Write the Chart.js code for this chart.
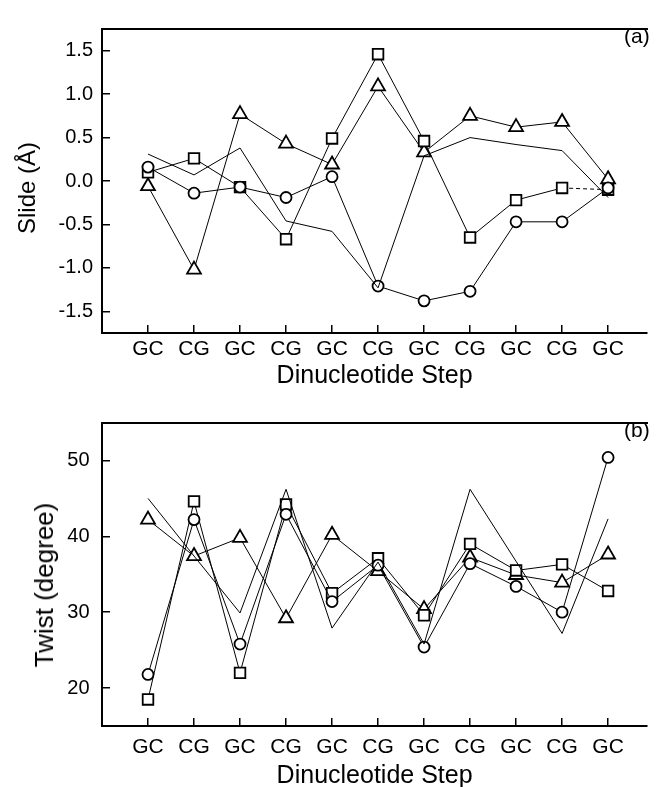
<!DOCTYPE html>
<html>
<head>
<meta charset="utf-8">
<script src="https://cdn.jsdelivr.net/npm/chart.js@4"></script>
<style>
  body { margin: 0; background: #fff; }
  #wrap { position: relative; width: 657px; height: 787px; overflow: hidden; font-family: 'Liberation Sans', Arial, sans-serif; color: #000; }
  canvas { position: absolute; left: 0; }
  .ytitle { position: absolute; transform: translate(-50%, -50%) rotate(-90deg); white-space: nowrap; line-height: 1; }
  .tag { position: absolute; font-size: 21px; line-height: 21px; }
</style>
</head>
<body>
<div id="wrap">
  <canvas id="slideChart" width="657" height="390" style="top:0"></canvas>
  <canvas id="twistChart" width="657" height="397" style="top:390px"></canvas>
  <div class="ytitle" style="left:27px; top:188px; font-size:24px">Slide (Å)</div>
  <div class="ytitle" style="left:44px; top:585px; font-size:26px">Twist (degree)</div>
  <div class="tag" style="left:624px; top:25px">(a)</div>
  <div class="tag" style="left:624px; top:419px">(b)</div>
</div>
<script>
const steps = ["GC", "CG", "GC", "CG", "GC", "CG", "GC", "CG", "GC", "CG", "GC"];
const slideTicks = [-1.5, -1.0, -0.5, 0, 0.5, 1.0, 1.5];
const twistTicks = [20, 30, 40, 50];

// panel (a): slide
const slideCircle   = [0.16, -0.14, -0.07, -0.19, 0.05, -1.21, -1.38, -1.27, -0.47, -0.47, -0.08];
const slideSquare   = [0.10, 0.26, -0.07, -0.67, 0.49, 1.46, 0.46, -0.65, -0.22, -0.08, -0.10];
const slideTriangle = [-0.06, -1.02, 0.77, 0.43, 0.19, 1.09, 0.33, 0.75, 0.62, 0.68, 0.02];
const slideLine     = [0.31, 0.07, 0.38, -0.46, -0.58, -1.23, 0.29, 0.50, 0.42, 0.35, -0.19];

// panel (b): twist
const twistCircle   = [21.8, 42.2, 25.8, 42.9, 31.4, 36.2, 25.4, 36.4, 33.4, 30.0, 50.4];
const twistSquare   = [18.5, 44.6, 22.0, 44.2, 32.5, 37.1, 29.6, 39.0, 35.5, 36.3, 32.8];
const twistTriangle = [42.2, 37.4, 39.8, 29.2, 40.2, 35.4, 30.4, 37.2, 34.9, 33.9, 37.6];
const twistLine     = [45.0, 37.4, 29.9, 46.2, 27.9, 36.6, 25.8, 46.2, 36.7, 27.2, 42.3];

Chart.defaults.font.family = "'Liberation Sans', Arial, sans-serif";
Chart.defaults.color = "#000";

const series = (values, style, radius, extra) => Object.assign({
  data: values.map((y, i) => ({x: i, y: y})),
  pointStyle: style,
  pointRadius: radius,
  pointHoverRadius: radius,
  borderColor: "#000",
  borderWidth: 1,
  pointBorderWidth: 1.8,
  pointBorderColor: "#000",
  pointBackgroundColor: "#fff"
}, extra || {});

const makePanel = (id, p) => new Chart(id, {
  type: "line",
  data: { datasets: p.datasets },
  options: {
    responsive: false,
    animation: false,
    devicePixelRatio: 1,
    layout: { padding: { top: p.top, left: 0, right: 0, bottom: 0 } },
    plugins: { legend: { display: false }, tooltip: { enabled: false } },
    scales: {
      x: {
        type: "linear", min: -1, max: 10.85,
        afterBuildTicks: s => { s.ticks = steps.map((_, i) => ({value: i})); },
        afterFit: s => { s.height = p.xHeight; },
        ticks: { callback: v => steps[v], font: { size: 21 }, padding: p.xPad, maxRotation: 0, autoSkip: false },
        grid: { drawOnChartArea: false, tickLength: -8, color: "#000", lineWidth: 1.5 },
        border: { color: "#000", width: 2 },
        title: { display: true, text: "Dinucleotide Step", font: { size: 25, lineHeight: p.titleLH }, padding: { top: 0, bottom: p.titlePad } }
      },
      frame: {
        type: "linear", position: "top", min: -1, max: 10.85,
        afterFit: s => { s.height = 0; },
        ticks: { display: false },
        grid: { display: false },
        border: { color: "#000", width: 2 }
      },
      y: {
        type: "linear", min: p.min, max: p.max,
        afterBuildTicks: s => { s.ticks = p.ticks.map(v => ({value: v})); },
        afterFit: s => { s.width = 102; },
        ticks: { callback: p.fmt, font: { size: 20 }, padding: p.yPad },
        grid: { drawOnChartArea: false, tickLength: -8, color: "#000", lineWidth: 1.5 },
        border: { color: "#000", width: 2 }
      }
    }
  }
});

makePanel("slideChart", {
  top: 13, xHeight: 57, xPad: 12, yPad: 17, titleLH: 1, titlePad: 1,
  min: -1.75, max: 1.75, ticks: slideTicks, fmt: v => v.toFixed(1),
  datasets: [
    series(slideLine, "circle", 0),
    series(slideCircle, "circle", 5.5),
    series(slideSquare, "rect", 7.5, { segment: { borderDash: ctx => ctx.p0DataIndex === 9 ? [4, 3] : undefined } }),
    series(slideTriangle, "triangle", 8)
  ]
});

makePanel("twistChart", {
  top: 15, xHeight: 61, xPad: 16.5, yPad: 20.5, titleLH: 0.8, titlePad: 0.4,
  min: 15, max: 55, ticks: twistTicks, fmt: v => String(v),
  datasets: [
    series(twistLine, "circle", 0),
    series(twistCircle, "circle", 5.5),
    series(twistSquare, "rect", 7.5),
    series(twistTriangle, "triangle", 8)
  ]
});
</script>
</body>
</html>
